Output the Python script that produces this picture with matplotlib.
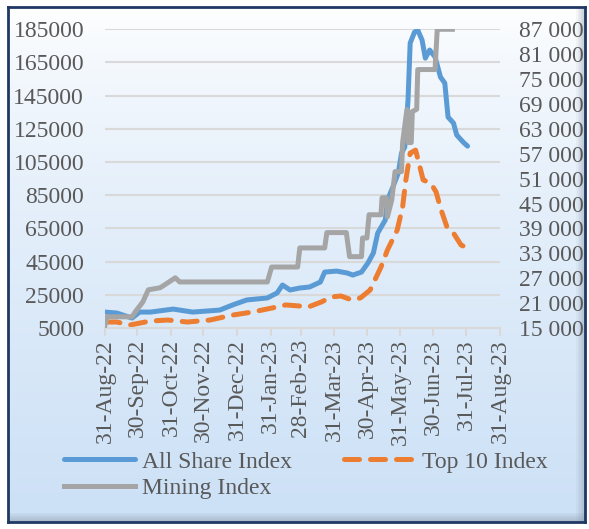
import numpy as np
import pandas as pd
import matplotlib
matplotlib.use("Agg")
import matplotlib.pyplot as plt
import matplotlib.dates as mdates
from matplotlib.ticker import FuncFormatter
from matplotlib.patches import Rectangle

# ---- data ----
all_share_dates = ["2022-08-31", "2022-09-11", "2022-09-25", "2022-10-02", "2022-10-12",
                   "2022-11-02", "2022-11-20", "2022-12-15", "2022-12-27", "2023-01-09",
                   "2023-01-28", "2023-02-06", "2023-02-11", "2023-02-18", "2023-02-27",
                   "2023-03-08", "2023-03-18", "2023-03-22", "2023-04-02", "2023-04-12",
                   "2023-04-17", "2023-04-25", "2023-05-01", "2023-05-06", "2023-05-10",
                   "2023-05-17", "2023-05-19", "2023-05-24", "2023-05-29", "2023-06-01",
                   "2023-06-04", "2023-06-07", "2023-06-09", "2023-06-13", "2023-06-16",
                   "2023-06-20", "2023-06-23", "2023-06-27", "2023-07-02", "2023-07-07",
                   "2023-07-11", "2023-07-14", "2023-07-19", "2023-07-22", "2023-07-28",
                   "2023-08-01"]
all_share = [14600, 14000, 11000, 14600, 14600, 16400, 14600, 15800, 18900, 21900,
             23100, 26100, 30900, 27900, 29100, 29700, 32700, 38700, 39300, 38100,
             36900, 38700, 44200, 50200, 62200, 70100, 82100, 89900, 98400, 110400,
             114000, 142300, 176700, 183300, 184500, 178500, 167600, 172500, 168300, 156200,
             152600, 132100, 128500, 121300, 117000, 114600]

top10_dates = ["2022-08-31", "2022-09-11", "2022-09-23", "2022-10-12", "2022-10-28",
               "2022-11-15", "2022-12-06", "2022-12-27", "2023-01-14", "2023-02-01",
               "2023-02-14", "2023-02-26", "2023-03-07", "2023-03-19", "2023-03-28",
               "2023-04-06", "2023-04-16", "2023-04-24", "2023-05-03", "2023-05-13",
               "2023-05-19", "2023-05-28", "2023-06-02", "2023-06-05", "2023-06-09",
               "2023-06-14", "2023-06-18", "2023-06-21", "2023-06-28", "2023-07-03",
               "2023-07-07", "2023-07-13", "2023-07-19", "2023-07-26", "2023-08-01"]
top10 = [8600, 8600, 6800, 9200, 9800, 8600, 9800, 12800, 14600, 17000,
         18900, 18300, 17700, 20700, 23700, 24300, 21900, 23100, 27900, 41700,
         52000, 64000, 77900, 94200, 110400, 112200, 102000, 94200, 92300, 86900,
         77300, 65800, 62200, 55000, 53200]

mining_dates = ["2022-08-31", "2022-09-02", "2022-09-25", "2022-09-28", "2022-10-05",
                "2022-10-10", "2022-10-21", "2022-10-28", "2022-11-04", "2022-11-08",
                "2023-01-28", "2023-02-01", "2023-02-25", "2023-02-27", "2023-03-22",
                "2023-03-24", "2023-04-11", "2023-04-14", "2023-04-25", "2023-04-26",
                "2023-04-30", "2023-05-02", "2023-05-13", "2023-05-14", "2023-05-18",
                "2023-05-19", "2023-05-23", "2023-05-26", "2023-06-01", "2023-06-02",
                "2023-06-06", "2023-06-07", "2023-06-10", "2023-06-11", "2023-06-15",
                "2023-06-16", "2023-07-02", "2023-07-04", "2023-07-18"]
mining = [15700, 17700, 17700, 18900, 21300, 24200, 24700, 25900, 27100, 26100,
          26100, 29700, 29700, 34300, 34300, 38000, 38000, 32200, 32200, 36700,
          36700, 42300, 42300, 46400, 46400, 41800, 45900, 52700, 52700, 59700,
          67700, 59700, 59700, 67200, 67700, 77300, 77300, 87000, 87000]

left_ticks = np.arange(5000, 185001, 20000)
right_ticks = np.arange(15000, 87001, 6000)
month_ends = pd.date_range("2022-08-31", "2023-08-31", freq="ME")

c_blue = "#5b9bd5"
c_orange = "#ed7d31"
c_gray = "#a5a5a5"
c_text = "#595959"
c_grid = "#d9d9d9"

plt.rcParams["font.family"] = ["Liberation Serif", "DejaVu Serif"]

W, H = 589, 529
fig = plt.figure(figsize=(W / 100, H / 100), dpi=100)
fig.patch.set_facecolor("white")

# gradient background with dark blue frame
bg = fig.add_axes([8 / W, 1 - 522 / H, 577 / W, 515 / H], zorder=-10)
grad = np.linspace(0, 1, 256).reshape(-1, 1)
top_c = np.array([1.0, 1.0, 1.0])
bot_c = np.array([0.80, 0.88, 0.965])
img = top_c + (bot_c - top_c) * grad[..., None] ** 0.7
bg.imshow(img, aspect="auto", extent=[0, 1, 1, 0])
bg.set_xlim(0, 1)
bg.set_ylim(1, 0)
bg.set_xticks([])
bg.set_yticks([])
for s in bg.spines.values():
    s.set_color("#1f3864")
    s.set_linewidth(2)
# soft bevel on the right and bottom edges
for i in range(6):
    a = 0.07 * (i + 1)
    bg.add_patch(Rectangle((1 - 0.0025 * (6 - i), 0), 0.0025, 1, color="#7f8c99", alpha=a, lw=0))
    bg.add_patch(Rectangle((0, 1 - 0.003 * (6 - i)), 1, 0.003, color="#7f8c99", alpha=a, lw=0))

ax = fig.add_axes([105 / W, 1 - 328 / H, 395 / W, 298.7 / H])
ax.patch.set_alpha(0)
ax2 = ax.twinx()

l1, = ax.plot(pd.to_datetime(all_share_dates), all_share, color=c_blue, lw=3.6,
              solid_capstyle="round", solid_joinstyle="round", label="All Share Index")
l2, = ax.plot(pd.to_datetime(top10_dates), top10, color=c_orange, lw=3.6,
              dashes=(3.0, 2.2), dash_capstyle="round", label="Top 10 Index")
l3, = ax2.plot(pd.to_datetime(mining_dates), mining, color=c_gray, lw=3.6,
               solid_joinstyle="round", label="Mining Index")

ax.set_ylim(left_ticks[0], left_ticks[-1])
ax.set_yticks(left_ticks)
ax2.set_ylim(right_ticks[0], right_ticks[-1])
ax2.set_yticks(right_ticks)
ax2.yaxis.set_major_formatter(FuncFormatter(lambda v, p: f"{int(v):,}".replace(",", " ")))

ax.set_xlim(month_ends[0], month_ends[-1])
ax.set_xticks(month_ends)
ax.xaxis.set_major_formatter(mdates.DateFormatter("%d-%b-%y"))

ax.grid(axis="y", color=c_grid, lw=1.5)
ax.set_axisbelow(True)
for a in (ax, ax2):
    for side in ("left", "right", "top", "bottom"):
        a.spines[side].set_visible(False)
ax.spines["bottom"].set_visible(True)
ax.spines["bottom"].set_color(c_grid)
ax.spines["bottom"].set_linewidth(1.5)

ax.tick_params(axis="y", length=0, pad=15, labelsize=17, labelcolor=c_text)
ax2.tick_params(axis="y", length=0, pad=14, labelsize=17, labelcolor=c_text)
ax.tick_params(axis="x", length=6, width=1.5, color=c_grid, pad=2,
               labelsize=17, labelcolor=c_text, labelrotation=90)

leg = fig.legend([l1, l3, l2], ["All Share Index", "Mining Index", "Top 10 Index"],
                 ncol=2, loc="center left", bbox_to_anchor=(55 / W, 1 - 475 / H),
                 frameon=False, fontsize=17, handlelength=3.0, handletextpad=0.3,
                 columnspacing=2.2, labelspacing=0.2, borderaxespad=0)
for t in leg.get_texts():
    t.set_color(c_text)

fig.savefig("out.png", dpi=100)
